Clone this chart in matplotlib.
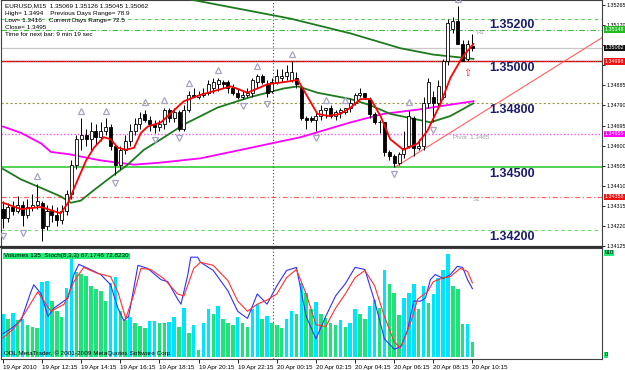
import matplotlib
matplotlib.use("Agg")
import matplotlib.pyplot as plt
import matplotlib.transforms as mtransforms
import numpy as np

# ---------------- data ----------------
time_labels = ["19 Apr 2010", "19 Apr 12:15", "19 Apr 14:15", "19 Apr 16:15", "19 Apr 18:15",
               "19 Apr 20:15", "19 Apr 22:15", "20 Apr 00:15", "20 Apr 02:15", "20 Apr 04:15",
               "20 Apr 06:15", "20 Apr 08:15", "20 Apr 10:15"]
label_bars = [0, 8, 16, 24, 32, 40, 48, 56, 64, 72, 80, 88, 96]

opens = [1.3430,1.3426,1.3431,1.3429,1.3432,1.3427,1.3431,1.3432,1.3433,1.3422,
         1.3429,1.3427,1.3425,1.3429,1.3437,1.3451,1.3463,1.3465,1.3463,1.3467,
         1.3464,1.3467,1.3469,1.3460,1.3451,1.3458,1.3462,1.3467,1.3470,1.3475,
         1.3472,1.3470,1.3469,1.3470,1.3477,1.3473,1.3476,1.3468,1.3477,1.3484,
         1.3483,1.3484,1.3485,1.3487,1.3489,1.3490,1.3490,1.3487,1.3485,1.3483,
         1.3484,1.3485,1.3490,1.3493,1.3489,1.3486,1.3490,1.3492,1.3493,1.3491,
         1.3492,1.3487,1.3473,1.3473,1.3472,1.3474,1.3477,1.3478,1.3474,1.3476,
         1.3476,1.3478,1.3480,1.3484,1.3485,1.3482,1.3475,1.3471,1.3471,1.3457,
         1.3455,1.3452,1.3456,1.3460,1.3473,1.3459,1.3460,1.3480,1.3483,1.3480,
         1.3483,1.3500,1.3515,1.3519,1.3508,1.3501,1.35069]
highs = [1.3434,1.3433,1.3434,1.3436,1.3434,1.3435,1.3437,1.3442,1.3434,1.3432,
         1.3432,1.3431,1.3432,1.3439,1.3453,1.3465,1.3473,1.3468,1.3471,1.3470,
         1.3471,1.3473,1.3470,1.3460,1.3460,1.3465,1.3470,1.3473,1.3476,1.3477,
         1.3474,1.3472,1.3472,1.3478,1.3478,1.3478,1.3477,1.3479,1.3486,1.3487,
         1.3486,1.3487,1.3491,1.3492,1.3492,1.3491,1.3491,1.3489,1.3487,1.3486,
         1.3487,1.3492,1.3494,1.3494,1.3491,1.3492,1.3496,1.3496,1.3498,1.3500,
         1.3495,1.3488,1.3474,1.3474,1.3476,1.3479,1.3478,1.3479,1.3477,1.3478,
         1.3478,1.3482,1.3485,1.3487,1.3485,1.3483,1.3476,1.3472,1.3471,1.3458,
         1.3456,1.3457,1.3467,1.3477,1.3474,1.3463,1.3483,1.3492,1.3486,1.3491,
         1.3501,1.3520,1.3521,1.3526,1.3510,1.3510,1.35126]
lows = [1.3421,1.3424,1.3427,1.3428,1.3422,1.3426,1.3429,1.3430,1.3415,1.3420,
        1.3424,1.3422,1.3423,1.3427,1.3435,1.3449,1.3458,1.3460,1.3458,1.3461,
        1.3462,1.3465,1.3458,1.3446,1.3449,1.3456,1.3460,1.3465,1.3468,1.3471,
        1.3467,1.3466,1.3467,1.3468,1.3471,1.3471,1.3467,1.3467,1.3476,1.3483,
        1.3482,1.3483,1.3484,1.3485,1.3486,1.3487,1.3485,1.3484,1.3482,1.3482,
        1.3483,1.3483,1.3487,1.3489,1.3483,1.3485,1.3489,1.3490,1.3491,1.3490,
        1.3487,1.3472,1.3468,1.3471,1.3467,1.3472,1.3473,1.3473,1.3472,1.3473,
        1.3475,1.3476,1.3479,1.3483,1.3482,1.3473,1.3470,1.3466,1.3455,1.3453,
        1.3450,1.3451,1.3454,1.3459,1.3455,1.3458,1.3458,1.3478,1.3471,1.3478,
        1.3482,1.3498,1.3513,1.3518,1.3500,1.3500,1.35045]
closes = [1.3426,1.3431,1.3429,1.3432,1.3427,1.3431,1.3432,1.3434,1.3421,1.3429,
          1.3427,1.3425,1.3429,1.3437,1.3451,1.3463,1.3465,1.3463,1.3467,1.3464,
          1.3467,1.3469,1.3460,1.3451,1.3458,1.3462,1.3467,1.3470,1.3473,1.3472,
          1.3470,1.3469,1.3470,1.3477,1.3473,1.3476,1.3468,1.3477,1.3484,1.3483,
          1.3484,1.3485,1.3489,1.3490,1.3491,1.3489,1.3487,1.3485,1.3483,1.3484,
          1.3485,1.3491,1.3493,1.3490,1.3485,1.3490,1.3493,1.3493,1.3495,1.3495,
          1.3489,1.3473,1.3472,1.3472,1.3474,1.3477,1.3478,1.3474,1.3476,1.3477,
          1.3478,1.3480,1.3484,1.3485,1.3483,1.3475,1.3471,1.3471,1.3457,1.3455,
          1.3452,1.3456,1.3459,1.3474,1.3459,1.3460,1.3480,1.3490,1.3480,1.3488,
          1.3500,1.3518,1.3519,1.3508,1.3500,1.3508,1.35062]

# moving averages read at knots (bar index, price)
ma_fast_bars = [0,3.7,7.8,11.8,13.3,15.3,17,18.6,20.6,22,23.5,25.1,26.8,28.2,29.6,32.3,37,40.4,43.5,
                46.6,50,54.1,57.4,60.3,62.3,64.3,66.4,69,71.1,73.1,75.2,77.2,79.2,81.9,84.8,86.8,89.5,
                91.5,94,96.2]
ma_fast_vals = [1.3433,1.3430,1.3431,1.3428,1.3433,1.3444,1.3453,1.3459,1.3464,1.3463,1.3459,1.3458,
                1.3459,1.3466,1.3469,1.3471,1.3481,1.3484,1.3486,1.3488,1.3485,1.3489,1.3490,1.3491,
                1.3483,1.3475,1.3474,1.3475,1.3478,1.3482,1.3482,1.3474,1.3463,1.3458,1.3461,1.3467,
                1.3480,1.3492,1.3502,1.3508]
ma_mid_bars = [0,3.7,7.8,11.8,13.9,15.9,18.6,22,25.5,28.8,32.3,37,43.9,50.7,57.4,60.3,64.3,71.1,75.2,
               79.2,83.3,87.4,91.5,96.2]
ma_mid_vals = [1.3449,1.3444,1.3440,1.3436,1.3433,1.3434,1.3439,1.3445,1.3451,1.3458,1.3463,1.3470,
               1.3478,1.3483,1.3487,1.3488,1.3485,1.3482,1.3479,1.3475,1.3473,1.3471,1.3474,1.3480]
ma_slow_bars = [0,3.7,7.8,9.8,13.3,20,26.8,32.3,40.4,50.7,60.9,71.1,77.8,84.8,96.2]
ma_slow_vals = [1.3469,1.3466,1.3461,1.3457,1.3456,1.3453,1.3451,1.3452,1.3454,1.3459,1.3464,1.3471,
                1.3475,1.3477,1.3481]
ma_long_bars = [38.4,58.8,71.1,81.3,88,96.2]
ma_long_vals = [1.3529,1.3520,1.3513,1.3506,1.3503,1.3501]

up_fractals = [7, 16, 21, 29, 33, 38, 44, 52, 59, 66, 70, 83, 93]
down_fractals = [0, 4, 23, 31, 36, 49, 54, 64, 80, 88]

round_levels = [1.35200, 1.35000, 1.34800, 1.34500, 1.34200]
round_labels = ["1.35200", "1.35000", "1.34800", "1.34500", "1.34200"]
r1_level, pivot_level, s1_level, bid_level = 1.35148, 1.34655, 1.34358, 1.35062
trend_start = (80.3, 1.34500)
trend_end = (122.5, 1.35110)
day_separator = 55.3
price_ticks = [1.34125,1.34220,1.34315,1.34410,1.34505,1.34600,1.34695,1.34790,1.34885,
               1.34980,1.35075,1.35170,1.35265]
hidden_tick_labels = [1.34980, 1.35075]

volumes = [376,332,388,324,330,280,260,250,659,668,
           490,403,353,601,863,747,723,709,621,592,
           578,490,645,703,403,324,347,300,271,257,
           315,318,300,300,309,347,260,426,213,280,
           61,300,420,380,450,330,300,280,350,300,
           260,420,460,330,360,300,280,250,330,400,
           380,650,560,420,480,380,340,300,280,320,
           260,300,420,380,330,450,500,430,760,640,
           560,367,519,557,639,420,624,475,551,694,
           761,905,624,592,289,290,135]
stoch_main_bars = [0,1.6,3.7,5.7,6.3,7.8,9.2,10.4,13.3,14.5,15.5,17.4,20,22,23.5,24.7,25.7,27.6,29.6,
                   32.3,33.7,35.7,36.4,37.8,38.4,39.8,40.4,43,46,48,50,52,54,56,58,60,62,64,66,68,70,
                   72,74,76,78,80,81.3,82.7,84,85.4,86.4,87.4,88.4,90.1,91.5,92.9,94,95,96]
stoch_main_vals = [23,28,36,64,71,62,40,48,58,81,91,87,81,71,48,36,40,90,87,76,74,57,52,81,98,98,93,
                   85,65,45,38,62,52,70,85,88,40,18,40,60,72,88,86,55,18,8,10,26,55,55,58,76,81,77,81,
                   89,88,76,67.17]
stoch_sig_bars = [0,2.2,4.3,7.1,9.8,12.5,14.5,16.5,19.4,22,23.5,25.1,26.8,28.2,30.2,32.9,35.7,37,39,40.4,
                  43,46,48,50,52,54,56,58,60,62,64,66,68,70,72,74,76,78,80,81.3,83.3,84.8,86.8,88,90.1,
                  91.5,93.5,95,96]
stoch_sig_vals = [19,28,42,64,45,52,74,88,82,79,64,38,62,87,86,77,62,60,87,93,90,75,55,45,52,56,62,78,
                  86,62,32,30,48,62,78,85,70,40,15,9,33,57,64,74,78,79,87,84,72.82]

# ---------------- figure ----------------
W, H = 625, 370
fig = plt.figure(figsize=(W/100, H/100), dpi=100)
fig.patch.set_facecolor("white")
plt.rcParams['font.family'] = ['Liberation Sans', 'DejaVu Sans']
SMALL = 4.4
AXF = 3.9

ax = fig.add_axes([1/W, (H-247)/H, 601/W, 247/H])
axv = fig.add_axes([1/W, (H-359)/H, 601/W, 111/H])

n = len(closes)
x = np.arange(n)
xlim = (-0.41, 122.5)
ax.set_xlim(*xlim)
ax.set_ylim(1.34121, 1.35288)
axv.set_xlim(*xlim)
axv.set_ylim(-17.5, 953.7)

for a in (ax, axv):
    for s in a.spines.values():
        s.set_color("#404040")
        s.set_linewidth(0.8)
ax.spines['bottom'].set_linewidth(1.6)
ax.spines['bottom'].set_color("#303030")

# level lines
ax.axhline(round_levels[0], color="#55cc55", lw=0.8, ls=(0, (3, 3)), zorder=1)
ax.axhline(r1_level, color="#44bb44", lw=0.8, ls=(0, (5, 2, 1, 2)), zorder=1)
ax.axhline(bid_level, color="#c8c8c8", lw=0.9, zorder=1)
ax.axhline(round_levels[1], color="#a00000", lw=1.0, zorder=1)
ax.axhline(round_levels[1], color="#ff3030", lw=0.8, ls=(0, (1, 1)), zorder=1)
ax.axhline(round_levels[2], color="#999944", lw=0.8, ls=(0, (2, 2)), zorder=1)
ax.axhline(pivot_level, color="#ff55ff", lw=1.0, ls=(0, (1, 1.5)), zorder=1)
ax.axhline(round_levels[3], color="#33cc33", lw=1.2, zorder=1)
ax.axhline(s1_level, color="#ff6666", lw=0.9, ls=(0, (4, 2, 1, 2)), zorder=1)
ax.axhline(round_levels[4], color="#66dd66", lw=0.8, ls=(0, (3, 3)), zorder=1)

# day separator
for a in (ax, axv):
    a.axvline(day_separator, color="#404060", lw=0.8, ls=(0, (1, 2)), zorder=1)

# trendline
ax.plot([trend_start[0], trend_end[0]], [trend_start[1], trend_end[1]], color="#ff6060", lw=0.8, zorder=2)

# moving averages
ax.plot(ma_slow_bars, ma_slow_vals, color="#ff00ff", lw=1.3, zorder=3)
ax.plot(ma_long_bars, ma_long_vals, color="#1d7a1d", lw=1.3, zorder=3)
ax.plot(ma_mid_bars, ma_mid_vals, color="#1d7a1d", lw=1.3, zorder=3)

# candles
o = np.array(opens); c = np.array(closes); h = np.array(highs); l = np.array(lows)
ax.vlines(x, l, h, color="black", lw=0.7, zorder=4)
up = c >= o
bw = 0.62
ax.bar(x[up], np.maximum(c[up] - o[up], 0.00002), bottom=o[up], width=bw, color="white",
       edgecolor="black", linewidth=0.6, zorder=5)
ax.bar(x[~up], o[~up] - c[~up], bottom=c[~up], width=bw, color="black",
       edgecolor="black", linewidth=0.6, zorder=5)

ax.plot(ma_fast_bars, ma_fast_vals, color="#ff0000", lw=1.3, zorder=6)

# fractals
ax.plot(up_fractals, h[up_fractals] + 0.00035, ls="none", marker="^", ms=4.2, mfc="none",
        mec="#a4a4c4", mew=0.9, zorder=6)
ax.plot(down_fractals, l[down_fractals] - 0.00035, ls="none", marker="v", ms=4.2, mfc="none",
        mec="#a4a4c4", mew=0.9, zorder=6)

# arrow
ax.text(95, l[95] - 0.00035, "\u21e7", color="#ff2020", fontsize=7, ha="center", va="top", zorder=7,
        family="DejaVu Sans")

# level labels
for lv, lb in zip(round_levels, round_labels):
    ax.text(99.5, lv - 0.00004, lb, color="#1c1c70", fontsize=9, fontweight="bold",
            va="top", ha="left", zorder=7)
ax.text(96.8, r1_level - 0.00002, "R1", color="#a0a0a0", fontsize=SMALL, va="top", ha="left")
ax.text(92.0, pivot_level - 0.00003, "Pivot  1.3465", color="#a0a0a0", fontsize=SMALL, va="top", ha="left")
ax.text(96.0, s1_level - 0.00003, "S1", color="#a0a0a0", fontsize=SMALL, va="top", ha="left")

# header text
hdr = ["EURUSD,M15  1.35069 1.35126 1.35045 1.35062",
       "High= 1.3494    Previous Days Range= 78.9",
       "Low= 1.3416    Current Days Range= 72.5",
       "Close= 1.3495",
       "Time for next bar: 9 min 19 sec"]
for i, t in enumerate(hdr):
    ax.text(4/601, 1 - (6 + i*7.2)/247, t, transform=ax.transAxes, fontsize=SMALL + 0.2, color="black",
            va="center", ha="left", zorder=8)

# right axis
ax.yaxis.tick_right()
ax.set_yticks(price_ticks)
ax.set_yticklabels(["" if p in hidden_tick_labels else f"{p:.5f}" for p in price_ticks], fontsize=AXF)
ax.tick_params(axis='y', length=2, width=0.6, pad=1.0, colors="black")
ax.set_xticks([])

blend = mtransforms.blended_transform_factory(ax.transAxes, ax.transData)
boxes = [(r1_level, "1.35148", "#22bb22"), (bid_level, "1.35062", "#111111"),
         (1.34998, "1.34998", "#ee1111"), (pivot_level, "1.34655", "#ff00ff"),
         (s1_level, "1.34358", "#ee1111")]
for lv, txt, col in boxes:
    ax.text(1.0045, lv, txt, transform=blend, fontsize=AXF, color="white", va="center", ha="left",
            bbox=dict(boxstyle="square,pad=0.12", fc=col, ec="none"), clip_on=False, zorder=9)

# ---------------- volumes + stochastic ----------------
v = np.array(volumes)
vcol = ["#00e5ff" if (i == 0 or v[i] > v[i-1]) else "#1ee27a" for i in range(n)]
axv.bar(x, v, width=0.72, color=vcol, linewidth=0, zorder=2)
axs = axv.twinx()
axs.set_ylim(-1.7, 107)
axs.plot(stoch_main_bars, stoch_main_vals, color="#3030ff", lw=0.8, zorder=3)
axs.plot(stoch_sig_bars, stoch_sig_vals, color="#ff3030", lw=0.8, zorder=3)
axs.set_yticks([])
axs.set_xlim(*xlim)
for s in axs.spines.values():
    s.set_visible(False)

axv.yaxis.tick_right()
axv.set_yticks([])
vblend = mtransforms.blended_transform_factory(axv.transAxes, axv.transData)
axv.text(1.0045, 910, "910", transform=vblend, fontsize=AXF, color="black", va="center", ha="left",
         bbox=dict(boxstyle="square,pad=0.12", fc="#22ee77", ec="none"), clip_on=False)
axv.text(1.0045, 18, "0", transform=vblend, fontsize=AXF, color="black", va="center", ha="left",
         bbox=dict(boxstyle="square,pad=0.12", fc="#22ee77", ec="none"), clip_on=False)

axv.text(3/601, 1 - 8/111, "Volumes 135  Stoch(8,3,3) 67.1746 72.8230", transform=axv.transAxes,
         fontsize=SMALL + 0.2, color="black", va="center", ha="left", zorder=10,
         bbox=dict(boxstyle="square,pad=0.15", fc="#22ee77", ec="none"))
axv.text(3/601, 6/111, "ODL MetaTrader, \u00a9 2001-2009 MetaQuotes Software Corp.", transform=axv.transAxes,
         fontsize=SMALL + 0.2, color="black", va="center", ha="left", zorder=10)

axv.set_xticks(label_bars)
axv.set_xticklabels(time_labels, fontsize=SMALL + 0.1)
axv.tick_params(axis='x', length=3, width=0.6, pad=1.5)
for lab in axv.get_xticklabels():
    lab.set_horizontalalignment("left")

fig.savefig("out.png", dpi=100, facecolor="white")
